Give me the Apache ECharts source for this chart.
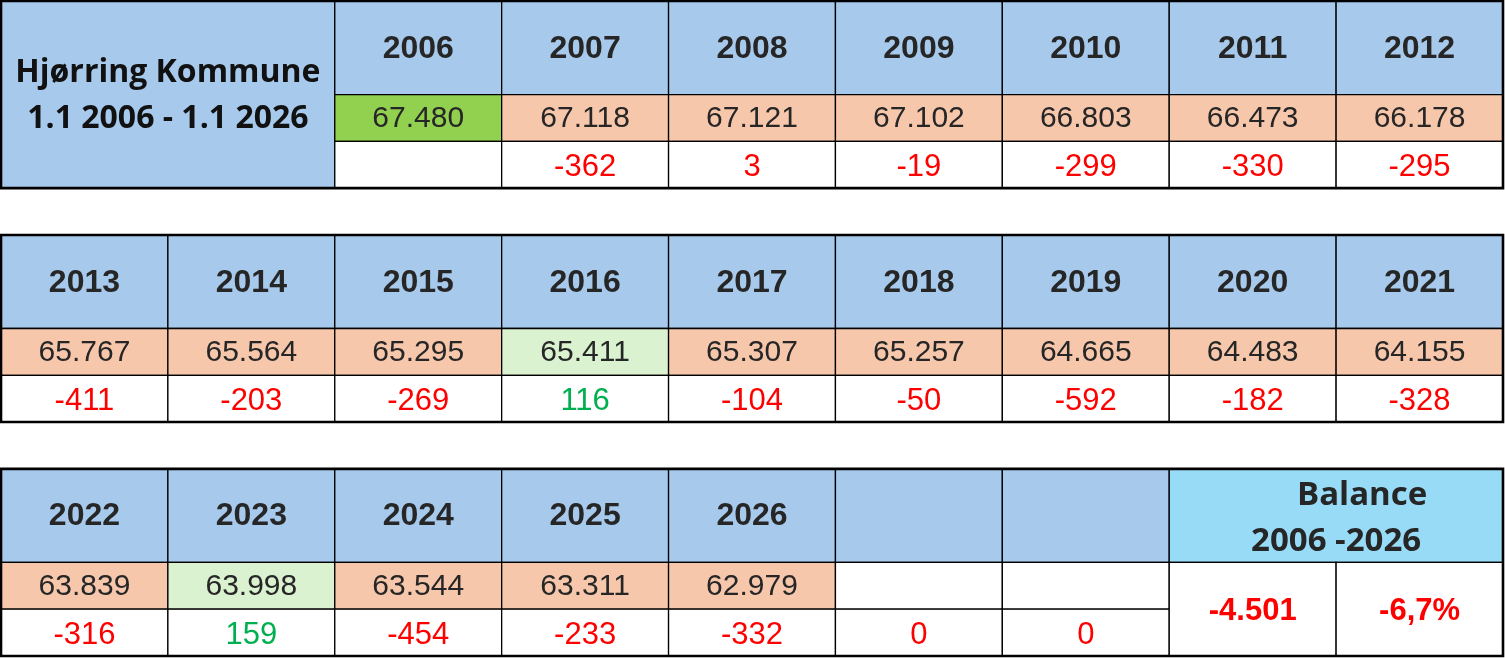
<!DOCTYPE html>
<html><head><meta charset="utf-8">
<script src="https://cdn.jsdelivr.net/npm/echarts@6/dist/echarts.min.js"></script>
<style>html,body{margin:0;padding:0;background:#fff}#c{width:1505px;height:659px}</style>
</head><body><div id="c"></div>
<script>
// ---------- data ----------
const titleLines = ['Hjørring Kommune', '1.1 2006 - 1.1 2026'];
const years = ['2006','2007','2008','2009','2010','2011','2012','2013','2014','2015','2016',
  '2017','2018','2019','2020','2021','2022','2023','2024','2025','2026'];
const population = [67480, 67118, 67121, 67102, 66803, 66473, 66178, 65767, 65564, 65295, 65411,
  65307, 65257, 64665, 64483, 64155, 63839, 63998, 63544, 63311, 62979];
const change = [null, -362, 3, -19, -299, -330, -295, -411, -203, -269, 116,
  -104, -50, -592, -182, -328, -316, 159, -454, -233, -332];
const emptyChange = [0, 0];
const balanceLabel = ['Balance', '2006 -2026'];
const balanceTotal = -4501;
const balancePct = -6.7;

// ---------- helpers ----------
function fmtDK(v) {
  const s = Math.abs(v).toString().replace(/\B(?=(\d{3})+(?!\d))/g, '.');
  return (v < 0 ? '-' : '') + s;
}
function fmtPct(v) { return v.toFixed(1).replace('.', ',') + '%'; }

const F = '"Liberation Sans", Arial, sans-serif';
const TF = '"Open Sans", sans-serif';
const BLUE = '#A6C9EC', ORANGE = '#F7C7AC', LGREEN = '#DAF2D0', GREEN = '#92D050', CYAN = '#97DBF7';
const DARK = '#262626', RED = '#FF0000', POS = '#00B050';

const cells = [];
function addCell(x0, y0, x1, y1, fill, texts) { cells.push({ x0, y0, x1, y1, fill, texts: texts || [] }); }
function hdr(t) { return { t, size: 32, weight: 'bold', color: DARK, family: F, dy: 1 }; }

// slots: block 0 cols 2..8, blocks 1 and 2 cols 0..8
const slots = [];
for (let b = 0; b < 3; b++) for (let c = (b === 0 ? 2 : 0); c < 9; c++) slots.push({ b, c });

// title cell
addCell(0, 0, 2, 4, BLUE, [
  { t: titleLines[0], dy: -22, size: 32, weight: 'bold', color: '#111', family: TF },
  { t: titleLines[1], dy: 24, size: 32, weight: 'bold', color: '#111', family: TF }
]);

years.forEach((y, i) => {
  const { b, c } = slots[i];
  const top = b * 5;
  addCell(c, top, c + 1, top + 2, BLUE, [hdr(y)]);
  const pFill = i === 0 ? GREEN : (change[i] > 10 ? LGREEN : ORANGE);
  addCell(c, top + 2, c + 1, top + 3, pFill, [{ t: fmtDK(population[i]), size: 30, weight: 'normal', color: DARK, family: F, dy: 1 }]);
  addCell(c, top + 3, c + 1, top + 4, '#fff', change[i] == null ? [] :
    [{ t: fmtDK(change[i]), size: 31, weight: 'normal', color: change[i] > 10 ? POS : RED, family: F, dy: 3 }]);
});
// empty slots in last block
emptyChange.forEach((v, k) => {
  const { b, c } = slots[years.length + k];
  const top = b * 5;
  addCell(c, top, c + 1, top + 2, BLUE, []);
  addCell(c, top + 2, c + 1, top + 3, '#fff', []);
  addCell(c, top + 3, c + 1, top + 4, '#fff', [{ t: fmtDK(v), size: 31, weight: 'normal', color: RED, family: F, dy: 3 }]);
});
// balance
addCell(7, 10, 9, 12, CYAN, [
  { t: balanceLabel[0], dx: 26, dy: -20, size: 33, weight: 'bold', color: DARK, family: TF },
  { t: balanceLabel[1], dx: 0, dy: 26, size: 33, weight: 'bold', color: DARK, family: TF }
]);
addCell(7, 12, 8, 14, '#fff', [{ t: fmtDK(balanceTotal), size: 31, weight: 'bold', color: RED, family: F, dy: 2 }]);
addCell(8, 12, 9, 14, '#fff', [{ t: fmtPct(balancePct), size: 31, weight: 'bold', color: RED, family: F, dy: 2 }]);

const blocks = [[0, 0, 9, 4], [0, 5, 9, 9], [0, 10, 9, 14]];

function cellRender(params, api) {
  const cell = cells[params.dataIndex];
  const p0 = api.coord([api.value(0), api.value(1)]);
  const p1 = api.coord([api.value(2), api.value(3)]);
  const cx = (p0[0] + p1[0]) / 2, cy = (p0[1] + p1[1]) / 2;
  const children = [{
    type: 'rect',
    shape: { x: p0[0], y: p0[1], width: p1[0] - p0[0], height: p1[1] - p0[1] },
    style: { fill: cell.fill, stroke: '#000', lineWidth: 1.3 }
  }];
  cell.texts.forEach(t => children.push({
    type: 'text',
    style: {
      x: cx + (t.dx || 0), y: cy + (t.dy || 0), text: t.t,
      fill: t.color, fontSize: t.size, fontWeight: t.weight, fontFamily: t.family,
      align: 'center', verticalAlign: 'middle'
    }
  }));
  return { type: 'group', children };
}
function blockRender(params, api) {
  const p0 = api.coord([api.value(0), api.value(1)]);
  const p1 = api.coord([api.value(2), api.value(3)]);
  return {
    type: 'rect',
    shape: { x: p0[0], y: p0[1], width: p1[0] - p0[0], height: p1[1] - p0[1] },
    style: { fill: null, stroke: '#000', lineWidth: 2.6 }
  };
}

const chart = echarts.init(document.getElementById('c'));
chart.setOption({
  animation: false,
  grid: { left: 1, right: 2, top: 1, bottom: 3 },
  xAxis: { type: 'value', min: 0, max: 9, show: false },
  yAxis: { type: 'value', min: 0, max: 14, inverse: true, show: false },
  series: [
    { type: 'custom', renderItem: cellRender, clip: false,
      data: cells.map(c => [c.x0, c.y0, c.x1, c.y1]) },
    { type: 'custom', renderItem: blockRender, clip: false, z: 3,
      data: blocks }
  ]
});
</script>
</body></html>
